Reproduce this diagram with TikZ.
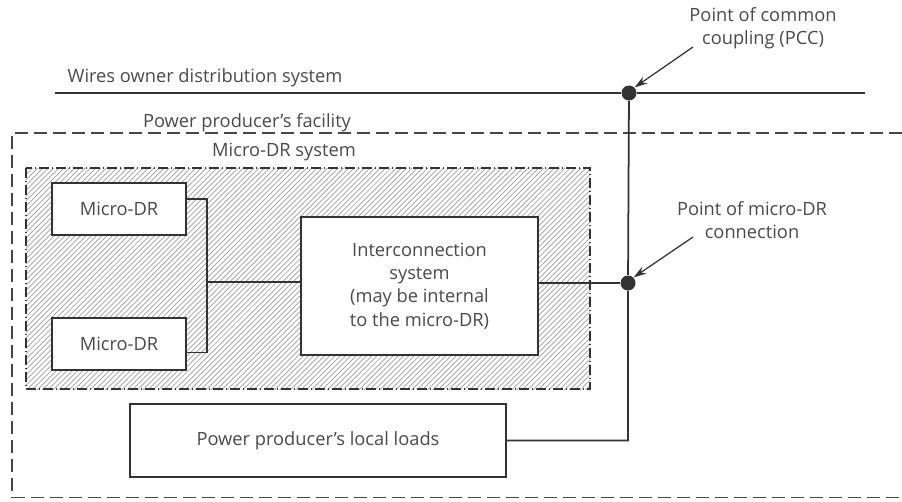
\documentclass[tikz,border=0pt]{standalone}
\usepackage{fontspec}
\setmainfont{Open Sans}
\usetikzlibrary{patterns,arrows.meta}
\definecolor{ink}{HTML}{333333}
\definecolor{txt}{HTML}{4A4A4A}
\tikzset{
  blk/.style={draw=ink, line width=1pt, fill=white, inner sep=0pt, outer sep=0pt, text=txt, align=center},
  lbl/.style={text=txt, align=center, inner sep=0pt},
  wire/.style={draw=ink, line width=1pt},
  junc/.style={circle, fill=ink, minimum size=3mm, inner sep=0pt},
  pointer/.style={draw=ink, line width=0.7pt, -{Stealth[length=2.6mm, width=1.6mm]}}
}
\begin{document}
\begin{tikzpicture}[x=0.2mm, y=-0.2mm, font=\fontsize{10.4}{13.2}\selectfont]
  \useasboundingbox (0,0) rectangle (902,501);
  % power producer's facility
  \draw[ink!90, line width=0.8pt, dash pattern=on 2.6mm off 1.2mm] (902,133) -- (12,133) -- (12,497.5) -- (902,497.5);
  \node[lbl] (ppf) at (247,123) {Power producer’s facility};
  % micro-DR system (hatched)
  \draw[ink, line width=0.6pt, pattern=north east lines, pattern color=gray!75,
        dash pattern=on 2mm off 0.6mm on 0.2mm off 0.6mm] (26,168) rectangle (590,389);
  \node[lbl] (mds) at (284,152) {Micro-DR system};
  % wires owner line
  \coordinate (wl) at (55,93);
  \coordinate (wr) at (865,93);
  \node[lbl] (wod) at (205,78) {Wires owner distribution system};
  \node[junc] (pcc) at (629,93) {};
  \draw[wire, line width=1.2pt] (wl) -- (pcc) -- (wr);
  % boxes
  \node[blk, minimum width=26.8mm, minimum height=10.4mm] (mdr1) at (119,209) {Micro-DR};
  \node[blk, minimum width=26.8mm, minimum height=10.4mm] (mdr2) at (119,344) {Micro-DR};
  \node[blk, minimum width=47.4mm, minimum height=27.6mm] (ics) at (419.5,286)
    {Interconnection\\system\\(may be internal\\to the micro-DR)};
  \node[blk, minimum width=75.2mm, minimum height=14.6mm] (pll) at (318,440.5) {Power producer’s local loads};
  % connections
  \node[junc] (pmc) at (628,283) {};
  \coordinate (jn) at (207,282);
  \draw[wire] ([yshift=2mm]mdr1.east) -| (jn) |- ([yshift=-1.7mm]mdr2.east);
  \draw[wire] (jn) -- (ics.west |- jn);
  \draw[wire] (ics.east |- pmc) -- (pmc);
  \draw[wire] (pcc) -- (pmc) |- (pll.east);
  % pointers
  \node[lbl] (pcct) at (763,28) {Point of common\\coupling (PCC)};
  \draw[pointer] (693,47) -- (pcc.north east);
  \node[lbl] (pmct) at (752,220) {Point of micro-DR\\connection};
  \draw[pointer] (693,237) -- (pmc.north east);
\end{tikzpicture}
\end{document}
